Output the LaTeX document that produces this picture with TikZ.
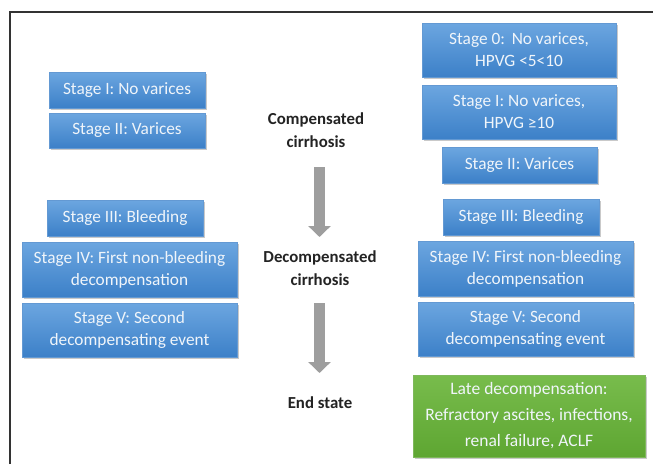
\documentclass[tikz,border=0pt]{standalone}
\usepackage{fontspec}
\setmainfont{Carlito}
\usetikzlibrary{shadows,arrows.meta}
\definecolor{bluetop}{RGB}{108,166,224}
\definecolor{bluebot}{RGB}{60,128,200}
\definecolor{greentop}{RGB}{120,188,76}
\definecolor{greenbot}{RGB}{94,166,50}
\definecolor{boxtxt}{RGB}{240,245,250}
\definecolor{midtxt}{RGB}{35,35,35}
\definecolor{arrowgray}{RGB}{158,158,158}
\tikzset{
  stagebox/.style={rectangle, inner sep=2pt, top color=bluetop, bottom color=bluebot,
    draw=bluebot!80!white, line width=0.4pt, text=boxtxt, align=center,
    font=\fontsize{17.3}{22}\selectfont,
    drop shadow={shadow xshift=1.5pt, shadow yshift=-2pt, opacity=0.35, fill=black!60}},
  greenbox/.style={stagebox, top color=greentop, bottom color=greenbot, draw=greenbot!80!white,
    font=\fontsize{17.5}{26}\selectfont},
  midlabel/.style={text=midtxt, align=center, font=\bfseries\fontsize{16.8}{23}\selectfont},
  bigarrow/.style={draw=arrowgray, line width=11pt, -{Triangle[width=22pt,length=11pt]}},
  frameline/.style={draw=black!80, line width=1.1pt}
}
\begin{document}
\begin{tikzpicture}[x=1pt,y=-1pt]
\useasboundingbox (0,0) rectangle (653,464);
\fill[white] (0,0) rectangle (653,464);
\coordinate (fb) at (10,464);
\coordinate (fc) at (10,12);
\coordinate (fr) at (653,12);
\draw[frameline] (fb) -- (fc) -- (fr);
% left column
\node[stagebox, minimum width=156pt, minimum height=36pt] (lI) at (127,90) {Stage I: No varices};
\node[stagebox, minimum width=156pt, minimum height=35pt] (lII) at (127,130.5) {Stage II: Varices};
\node[stagebox, minimum width=156pt, minimum height=36pt] (lIII) at (125,218) {Stage III: Bleeding};
\node[stagebox, minimum width=215pt, minimum height=55pt] (lIV) at (129.5,269.5) {Stage IV: First non-bleeding\\decompensation};
\node[stagebox, minimum width=215pt, minimum height=54pt] (lV) at (129.5,330) {Stage V: Second\\decompensating event};
% right column
\node[stagebox, minimum width=194pt, minimum height=54pt] (r0) at (519,50) {Stage 0:\ \,No varices,\\HPVG <5<10};
\node[stagebox, minimum width=194pt, minimum height=54pt] (rI) at (519,112) {Stage I: No varices,\\HPVG ≥10};
\node[stagebox, minimum width=155pt, minimum height=36pt] (rII) at (519.5,165) {Stage II: Varices};
\node[stagebox, minimum width=156pt, minimum height=36pt] (rIII) at (521,217) {Stage III: Bleeding};
\node[stagebox, minimum width=215pt, minimum height=55pt] (rIV) at (525.5,268.5) {Stage IV: First non-bleeding\\decompensation};
\node[stagebox, minimum width=215pt, minimum height=54pt] (rV) at (525.5,329) {Stage V: Second\\decompensating event};
\node[greenbox, minimum width=232pt, minimum height=82pt] (late) at (529,416) {Late decompensation:\\Refractory ascites, infections,\\renal failure, ACLF};
% middle
\node[midlabel] (comp) at (316,130) {Compensated\\cirrhosis};
\node[midlabel] (decomp) at (320,268) {Decompensated\\cirrhosis};
\node[midlabel] (endst) at (320,403) {End state};
\coordinate (a1s) at (319.5,167);
\coordinate (a1e) at (319.5,237);
\coordinate (a2s) at (319.5,303);
\coordinate (a2e) at (319.5,373);
\draw[bigarrow] (a1s) -- (a1e);
\draw[bigarrow] (a2s) -- (a2e);
\end{tikzpicture}
\end{document}
